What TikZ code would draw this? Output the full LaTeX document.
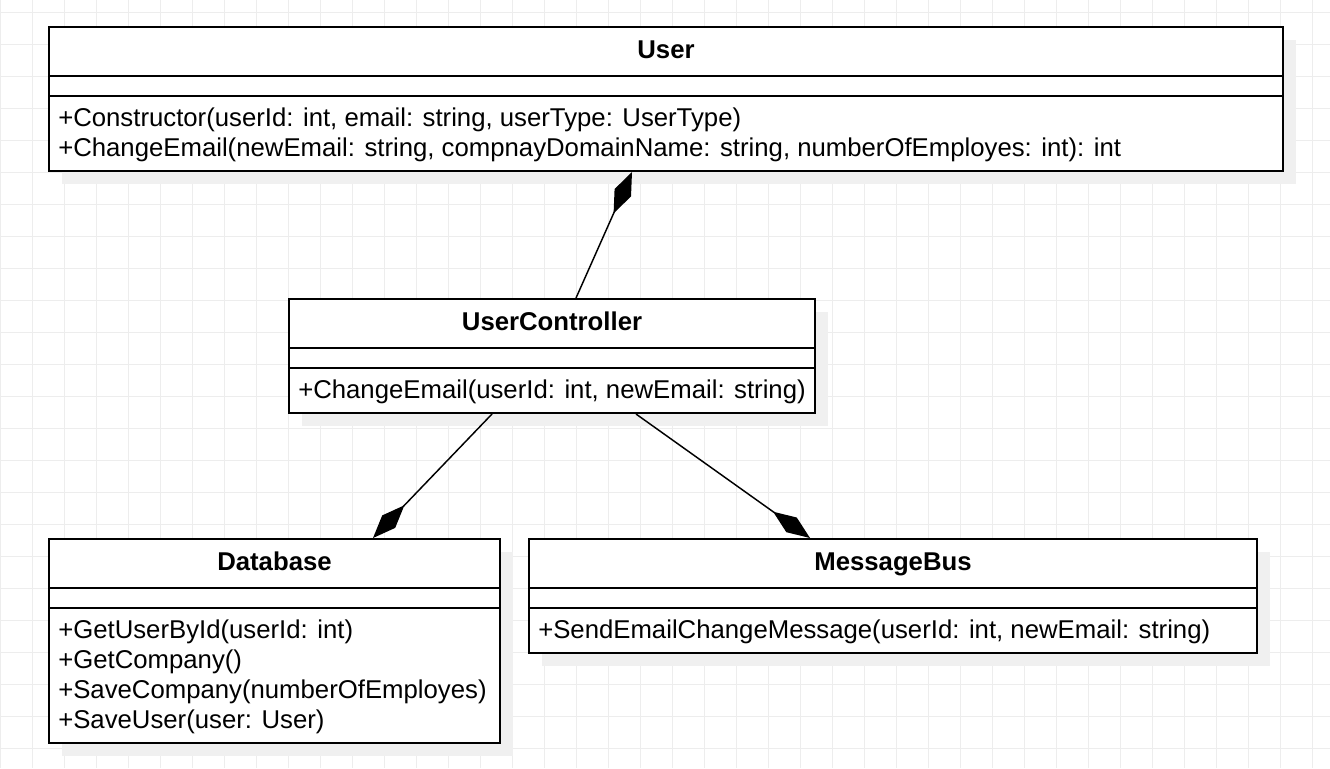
\documentclass[tikz,border=0pt]{standalone}
\usepackage{fontspec}
\setmainfont{Liberation Sans}
\usetikzlibrary{arrows.meta}

\definecolor{gridgray}{HTML}{EDEDED}
\definecolor{shadowgray}{HTML}{F0F0F0}

\tikzset{
  classbox/.style={draw, line width=1.5pt, fill=white, inner sep=0pt, anchor=north west},
  shadowbox/.style={fill=shadowgray, draw=none},
  sepline/.style={line width=1.5pt},
  titletext/.style={font=\bfseries\fontsize{19.3}{22.5}\selectfont, inner sep=0pt, anchor=base},
  methodtext/.style={font=\fontsize{19.3}{22.5}\selectfont, align=left, inner sep=0pt, anchor=north west},
  compose/.style={line width=1.1pt, -{Diamond[length=34pt,width=13.5pt]}}
}

\begin{document}
\begin{tikzpicture}[x=0.75pt,y=-0.75pt]
  \useasboundingbox (0,0) rectangle (1330,768);
  \fill[white] (0,0) rectangle (1330,768);

% background grid
  \foreach \gx in {0,32,...,1330}
    \draw[gridgray, line width=0.75pt] (\gx,0) -- (\gx,768);
  \foreach \gy in {12,44,...,768}
    \draw[gridgray, line width=0.75pt] (0,\gy) -- (1330,\gy);

% shadows
  \fill[shadowbox] (62,40) rectangle (1296,184);
  \fill[shadowbox] (302,312) rectangle (828,426);
  \fill[shadowbox] (62,552) rectangle (513,756);
  \fill[shadowbox] (542,552) rectangle (1270,666);

% User
  \node[classbox, minimum width=925.5pt, minimum height=108pt] (user) at (48,26) {};
  \draw[sepline] ([shift={(0,50)}]user.north west) -- ([shift={(0,50)}]user.north east);
  \draw[sepline] ([shift={(0,70)}]user.north west) -- ([shift={(0,70)}]user.north east);
  \node[titletext] (userTitle) at ([shift={(0,32)}]user.north) {User};
  \node[methodtext] (userOps) at ([shift={(10,79)}]user.north west)
    {\strut+Constructor(userId: int, email: string, userType: UserType)\\
     +ChangeEmail(newEmail: string, compnayDomainName: string, numberOfEmployes: int): int};

% UserController
  \node[classbox, minimum width=394.5pt, minimum height=85.5pt] (uc) at (288,298) {};
  \draw[sepline] ([shift={(0,50)}]uc.north west) -- ([shift={(0,50)}]uc.north east);
  \draw[sepline] ([shift={(0,70)}]uc.north west) -- ([shift={(0,70)}]uc.north east);
  \node[titletext] (ucTitle) at ([shift={(0,32)}]uc.north) {UserController};
  \node[methodtext] (ucOps) at ([shift={(10,79)}]uc.north west)
    {\strut+ChangeEmail(userId: int, newEmail: string)};

% Database
  \node[classbox, minimum width=338.25pt, minimum height=153pt] (db) at (48,538) {};
  \draw[sepline] ([shift={(0,50)}]db.north west) -- ([shift={(0,50)}]db.north east);
  \draw[sepline] ([shift={(0,70)}]db.north west) -- ([shift={(0,70)}]db.north east);
  \node[titletext] (dbTitle) at ([shift={(0,32)}]db.north) {Database};
  \node[methodtext] (dbOps) at ([shift={(10,79)}]db.north west)
    {\strut+GetUserById(userId: int)\\
     +GetCompany()\\
     +SaveCompany(numberOfEmployes)\\
     +SaveUser(user: User)};

% MessageBus
  \node[classbox, minimum width=546pt, minimum height=85.5pt] (bus) at (528,538) {};
  \draw[sepline] ([shift={(0,50)}]bus.north west) -- ([shift={(0,50)}]bus.north east);
  \draw[sepline] ([shift={(0,70)}]bus.north west) -- ([shift={(0,70)}]bus.north east);
  \node[titletext] (busTitle) at ([shift={(0,32)}]bus.north) {MessageBus};
  \node[methodtext] (busOps) at ([shift={(10,79)}]bus.north west)
    {\strut+SendEmailChangeMessage(userId: int, newEmail: string)};

% compositions
  \draw[compose] ([shift={(288,0)}]uc.north west) -- ([shift={(584,0)}]user.south west);
  \draw[compose] ([shift={(204,0)}]uc.south west) -- ([shift={(325,0)}]db.north west);
  \draw[compose] ([shift={(348,0)}]uc.south west) -- ([shift={(282,0)}]bus.north west);
\end{tikzpicture}
\end{document}
